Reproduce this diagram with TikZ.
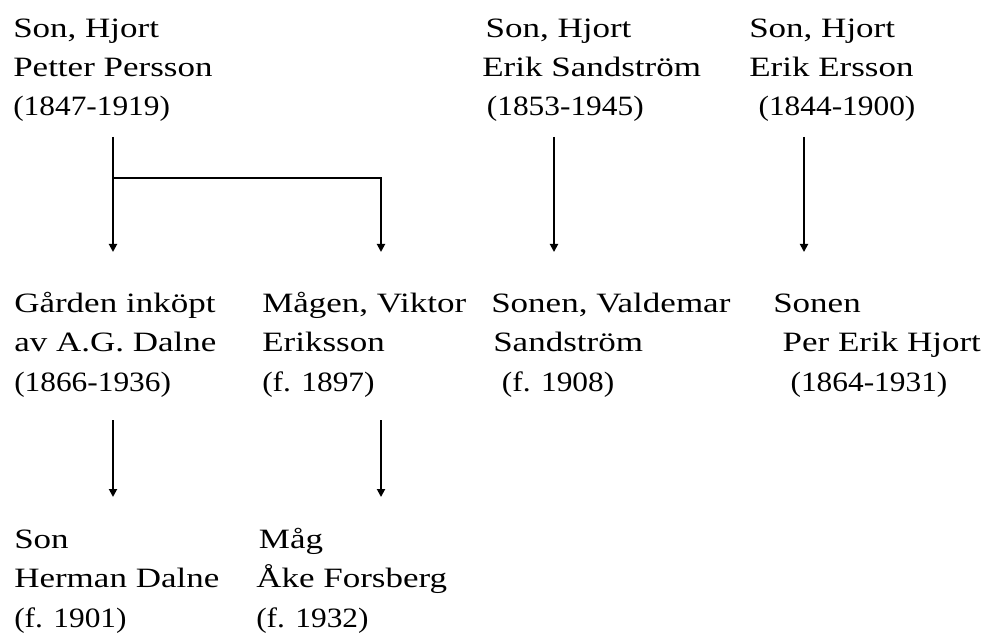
\documentclass[tikz,border=0pt]{standalone}
\usepackage{fontspec}
\setmainfont[FakeStretch=1.25]{Liberation Serif}
\newfontfamily\yearfont[FakeStretch=1.12]{Liberation Serif}
\usetikzlibrary{arrows.meta,calc}

\begin{document}
\begin{tikzpicture}[x=0.75pt,y=-0.75pt,
  every node/.style={font=\fontsize{21}{29.5}\selectfont,align=left,anchor=base west,inner sep=0pt},
  arr/.style={-{Triangle[length=6pt,width=6pt]},line width=1.4pt}]
\useasboundingbox (0,0) rectangle (987,634);
% generation 1 (anchored at the last line)
\node (petter) at (13,116) {Son, Hjort\\Petter Persson\\\yearfont(1847-1919)};
\node (sandstrom) at (482,116) {\hspace{2.5pt}Son, Hjort\\Erik Sandström\\\hspace{3.5pt}\yearfont(1853-1945)};
\node (ersson) at (749,116) {Son, Hjort\\Erik Ersson\\\hspace{7pt}\yearfont(1844-1900)};
% generation 2
\node (garden) at (14,391) {Gården inköpt\\av A.G. Dalne\\\yearfont(1866-1936)};
\node (magen) at (262,391) {Mågen, Viktor\\Eriksson\\\yearfont(f. 1897)};
\node (valdemar) at (491,391) {Sonen, Valdemar\\\hspace{1.5pt}Sandström\\\hspace{8pt}\yearfont(f. 1908)};
\node (hjort) at (773,391) {Sonen\\\hspace{7pt}Per Erik Hjort\\\hspace{13pt}\yearfont(1864-1931)};
% generation 3
\node (dalne) at (14,627) {Son\\Herman Dalne\\\yearfont(f. 1901)};
\node (forsberg) at (256,627) {\hspace{2pt}Måg\\Åke Forsberg\\\yearfont(f. 1932)};
% connectors
\coordinate (fork) at ($(petter.base west)+(100,21)$);
\coordinate (split) at ($(fork)+(0,41)$);
\coordinate (s1) at ($(sandstrom.base west)+(72,21)$);
\coordinate (e1) at ($(ersson.base west)+(55,21)$);
\coordinate (g1) at ($(garden.base west)+(99,29)$);
\coordinate (m1) at ($(magen.base west)+(119,29)$);
\draw[arr] (fork) -- ($(fork |- garden.base west)+(0,-139)$);
\draw[arr] (split) -| ($(m1 |- magen.base west)+(0,-139)$);
\draw[arr] (s1) -- ($(s1 |- valdemar.base west)+(0,-139)$);
\draw[arr] (e1) -- ($(e1 |- hjort.base west)+(0,-139)$);
\draw[arr] (g1) -- ($(g1 |- dalne.base west)+(0,-130)$);
\draw[arr] (m1) -- ($(m1 |- forsberg.base west)+(0,-130)$);
\end{tikzpicture}
\end{document}
